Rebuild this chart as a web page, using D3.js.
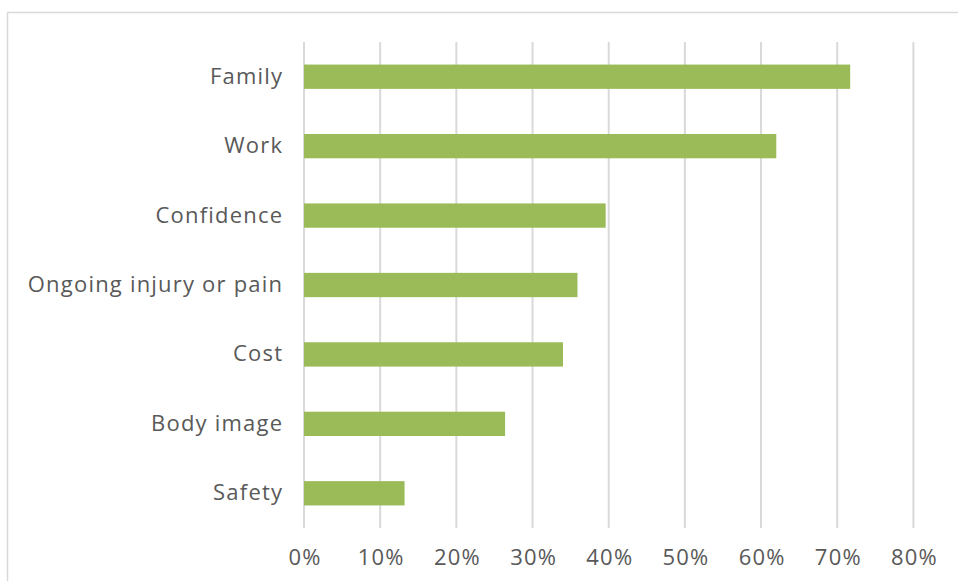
<!DOCTYPE html>
<html>
<head>
<meta charset="utf-8">
<script src="https://cdn.jsdelivr.net/npm/d3@7"></script>
<style>
  html, body { margin: 0; padding: 0; background: #fff; }
  svg { display: block; }
  text { font-family: "Open Sans", "DejaVu Sans", sans-serif; fill: #595959; }
</style>
</head>
<body>
<svg id="chart" width="958" height="581"></svg>
<script>
// Barriers and their share of respondents
const categories = ["Family", "Work", "Confidence", "Ongoing injury or pain", "Cost", "Body image", "Safety"];
const shares = [0.717, 0.620, 0.396, 0.359, 0.340, 0.264, 0.132];
const tickValues = [0, 0.1, 0.2, 0.3, 0.4, 0.5, 0.6, 0.7, 0.8];

const svg = d3.select("#chart");
const plot = { left: 304, right: 913.4, top: 42, bottom: 528 };
const fontSize = 22, tracking = 1.2;

// Chart frame
svg.append("rect")
  .attr("x", 7.5).attr("y", 12.5)
  .attr("width", 952).attr("height", 600)
  .attr("fill", "none").attr("stroke", "#d9d9d9").attr("stroke-width", 1.5);

const x = d3.scaleLinear().domain([0, 0.8]).range([plot.left, plot.right]);
const y = d3.scaleBand().domain(categories).range([plot.top, plot.bottom]).paddingInner(0.65).paddingOuter(0.325);

// Vertical gridlines
svg.append("g")
  .selectAll("line")
  .data(tickValues)
  .join("line")
  .attr("x1", d => x(d)).attr("x2", d => x(d))
  .attr("y1", plot.top).attr("y2", plot.bottom)
  .attr("stroke", "#d9d9d9").attr("stroke-width", 2);

// Bars
svg.append("g")
  .selectAll("rect")
  .data(categories)
  .join("rect")
  .attr("x", x(0))
  .attr("y", d => y(d))
  .attr("width", (d, i) => x(shares[i]) - x(0))
  .attr("height", y.bandwidth())
  .attr("fill", "#9bbb59");

// X axis labels
const xAxis = d3.axisBottom(x).tickValues(tickValues).tickFormat(d3.format(".0%")).tickSize(0).tickPadding(0);
const gx = svg.append("g").attr("transform", `translate(${tracking / 2}, ${plot.bottom + 21})`).call(xAxis);
gx.select(".domain").remove();
gx.selectAll("text").attr("font-size", fontSize).attr("fill", "#595959")
  .style("letter-spacing", tracking + "px")
  .style("font-family", "'Open Sans', sans-serif");

// Y axis labels
const yAxis = d3.axisLeft(y).tickSize(0).tickPadding(22 - tracking);
const gy = svg.append("g").attr("transform", `translate(${plot.left}, 0)`).call(yAxis);
gy.select(".domain").remove();
gy.selectAll("text").attr("font-size", fontSize).attr("fill", "#595959")
  .style("letter-spacing", tracking + "px")
  .style("font-family", "'Open Sans', sans-serif");
</script>
</body>
</html>
